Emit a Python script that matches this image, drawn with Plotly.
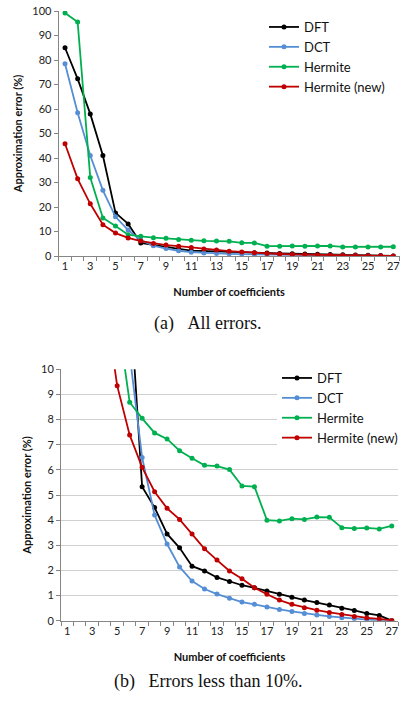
import plotly.graph_objects as go

coeffs = list(range(1, 28))

dft = [85, 72.3, 58, 41, 17.6, 13.1, 5.33, 4.5, 3.45, 2.9, 2.17, 1.98, 1.72, 1.56, 1.41,
       1.31, 1.18, 1.05, 0.93, 0.82, 0.72, 0.62, 0.5, 0.41, 0.29, 0.21, 0.0]
dct = [78.5, 58.5, 41, 26.8, 16, 10.6, 6.49, 4.2, 3.05, 2.14, 1.58, 1.26, 1.06, 0.89, 0.74,
       0.65, 0.54, 0.45, 0.37, 0.29, 0.23, 0.17, 0.12, 0.08, 0.04, 0.01, 0.0]
hermite = [99.2, 95.5, 32, 15.5, 12.2, 8.69, 8.05, 7.47, 7.23, 6.76, 6.46, 6.18, 6.15, 6.01, 5.36,
           5.33, 4.0, 3.97, 4.06, 4.03, 4.12, 4.11, 3.7, 3.67, 3.69, 3.65, 3.77]
hermite_new = [45.8, 31.5, 21.3, 12.8, 9.35, 7.39, 6.1, 5.13, 4.47, 4.03, 3.45, 2.86, 2.41, 1.98, 1.67,
               1.31, 1.05, 0.82, 0.65, 0.52, 0.42, 0.33, 0.25, 0.17, 0.11, 0.07, 0.01]

series_names = ["DFT", "DCT", "Hermite", "Hermite (new)"]
series_values = [dft, dct, hermite, hermite_new]
series_colors = ["#000000", "#558ED5", "#00B050", "#C00000"]

top_yticks = list(range(0, 101, 10))
bottom_yticks = list(range(0, 11, 1))
x_ticklabels = list(range(1, 28, 2))
captions = ["(a)\u00a0\u00a0\u00a0All errors.", "(b)\u00a0\u00a0\u00a0Errors less than 10%."]
xtitle = "Number of coefficients"
ytitle = "Approximation error (%)"

W, H = 401, 702
FONT = "Lato"
AXC = "#868686"

fig = go.Figure()
for name, vals, col in zip(series_names, series_values, series_colors):
    fig.add_trace(go.Scatter(x=coeffs, y=vals, name=name, mode="lines+markers",
                             line=dict(color=col, width=1.8), marker=dict(color=col, size=5),
                             xaxis="x", yaxis="y", legend="legend"))
for name, vals, col in zip(series_names, series_values, series_colors):
    fig.add_trace(go.Scatter(x=coeffs, y=vals, name=name, mode="lines+markers",
                             line=dict(color=col, width=1.8), marker=dict(color=col, size=5),
                             xaxis="x2", yaxis="y2", legend="legend2", cliponaxis=True))


def xax(domain, anchor):
    return dict(domain=domain, anchor=anchor, range=[0.5, 27.5], tickmode="array",
                tickvals=x_ticklabels, ticktext=[str(v) for v in x_ticklabels], ticks="",
                showgrid=False, zeroline=False, showline=True, linecolor=AXC, linewidth=1,
                automargin=False,
                tickfont=dict(family=FONT, size=11, color="#222"),
                minor=dict(tickmode="linear", tick0=0.5, dtick=1, ticks="outside", ticklen=4,
                           tickcolor=AXC, showgrid=False),
                title=dict(text="<b>" + xtitle + "</b>", font=dict(family=FONT, size=11, color="#111"),
                           standoff=17),
                fixedrange=True)


def yax(domain, anchor, rng, vals, grid):
    return dict(domain=domain, anchor=anchor, range=rng, tickmode="array", tickvals=vals,
                ticks="outside", ticklen=4, tickcolor=AXC, showline=True, linecolor=AXC, linewidth=1,
                showgrid=grid, gridcolor="#D0D0D0", gridwidth=1, zeroline=False,
                automargin=False,
                tickfont=dict(family=FONT, size=11, color="#222"),
                title=dict(text="<b>" + ytitle + "</b>", font=dict(family=FONT, size=11, color="#111"),
                           standoff=7),
                fixedrange=True)


fig.update_layout(
    width=W, height=H, margin=dict(l=0, r=0, t=0, b=0, autoexpand=False),
    paper_bgcolor="white", plot_bgcolor="white",
    xaxis=xax([58.7 / W, 399.6 / W], "y"),
    yaxis=yax([(H - 256) / H, (H - 11) / H], "x", [0, 100], top_yticks, False),
    xaxis2=xax([61 / W, 398 / W], "y2"),
    yaxis2=yax([(H - 620.7) / H, (H - 369.3) / H], "x2", [0, 10], bottom_yticks, True),
    legend=dict(x=264 / W, y=(H - 12) / H, xanchor="left", yanchor="top",
                font=dict(family=FONT, size=13, color="#111"), bgcolor="rgba(255,255,255,0)",
                borderwidth=0),
    legend2=dict(x=277 / W, y=(H - 363) / H, xanchor="left", yanchor="top",
                 font=dict(family=FONT, size=13, color="#111"), bgcolor="white",
                 borderwidth=0),
    showlegend=True,
)

fig.add_annotation(text=captions[0], x=207.5 / W, y=(H - 323) / H, xref="paper", yref="paper",
                   showarrow=False, xanchor="center", yanchor="middle",
                   font=dict(family="Liberation Serif", size=18, color="#111"))
fig.add_annotation(text=captions[1], x=208 / W, y=(H - 681) / H, xref="paper", yref="paper",
                   showarrow=False, xanchor="center", yanchor="middle",
                   font=dict(family="Liberation Serif", size=18, color="#111"))

fig.write_html("out.html", config={"displayModeBar": False, "staticPlot": True},
               post_script="document.body.style.margin='0px';document.body.style.overflow='hidden';")
